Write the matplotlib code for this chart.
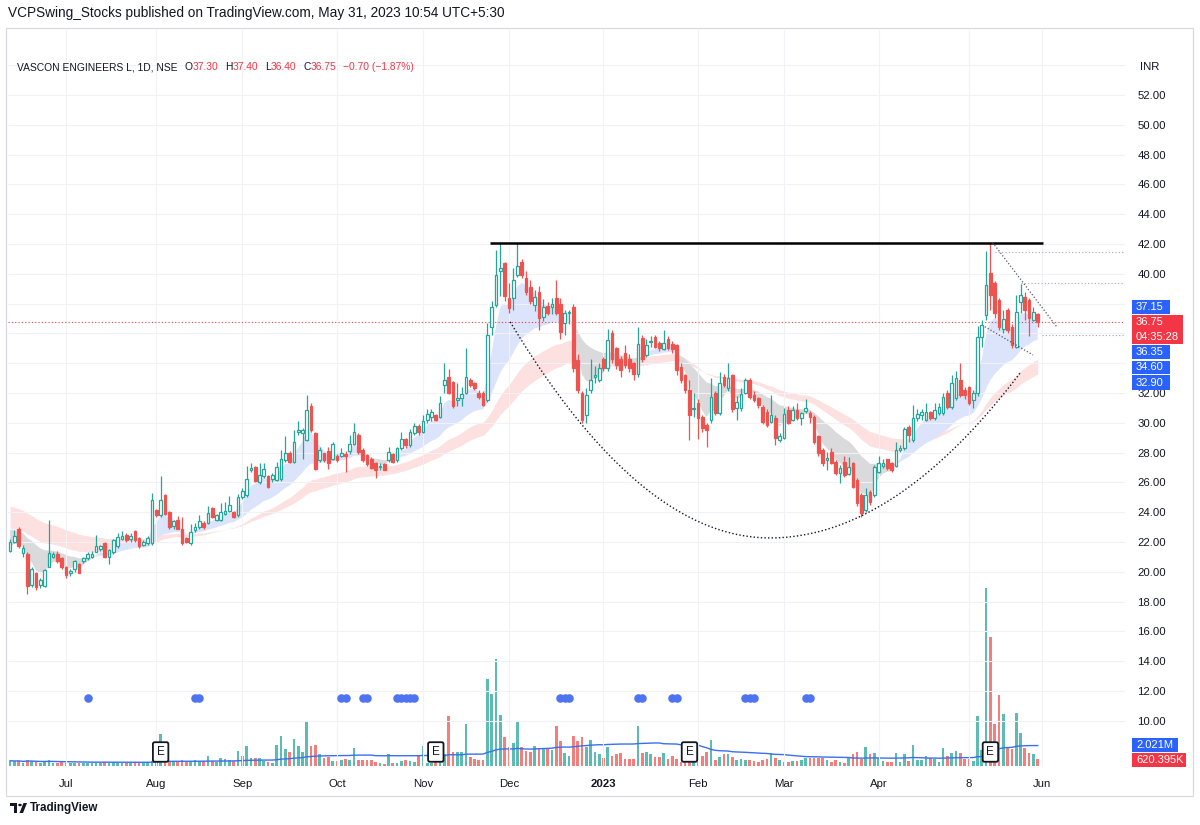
import numpy as np
import pandas as pd
import matplotlib
matplotlib.use("Agg")
import matplotlib.pyplot as plt
import matplotlib.transforms as mtransforms
from matplotlib.patches import Rectangle, Circle, Polygon

plt.rcParams["font.family"] = ["Liberation Sans", "DejaVu Sans"]

# daily bars, mid June 2022 -> 31 May 2023 (INR)
opens = [
    21.4, 22.0, 22.9, 21.25, 21.2, 19.1, 19.95, 19.1, 19.05, 20.35,
    21.0, 21.2, 20.9, 20.35, 19.9, 20.2, 20.55, 20.7, 20.9, 21.0,
    21.35, 21.5, 21.9, 21.0, 21.35, 21.7, 22.2, 22.45, 22.2, 22.75,
    22.25, 21.8, 21.9, 21.9, 24.15, 23.8, 25.15, 24.0, 23.05, 23.5,
    22.9, 22.25, 21.9, 22.8, 23.0, 23.3, 23.25, 24.3, 23.5, 23.5,
    23.9, 24.1, 24.0, 23.8, 25.0, 25.15, 26.85, 27.05, 26.05, 26.4,
    26.4, 26.2, 26.15, 26.2, 27.5, 28.0, 27.4, 29.35, 29.3, 28.85,
    31.1, 29.3, 27.5, 27.95, 28.1, 27.6, 27.8, 27.8, 27.9, 28.1,
    28.6, 29.2, 28.2, 27.85, 27.6, 27.3, 27.05, 27.2, 27.5, 27.9,
    27.5, 28.3, 28.9, 28.5, 29.3, 29.8, 29.4, 30.2, 30.4, 30.5,
    30.4, 32.55, 33.1, 32.75, 31.5, 31.65, 31.98, 32.9, 32.65, 32.0,
    32.0, 31.55, 36.45, 37.9, 40.2, 40.7, 38.35, 38.35, 39.9, 40.8,
    39.7, 39.1, 37.9, 38.8, 37.1, 37.85, 37.8, 38.35, 38.0, 36.7,
    37.35, 37.8, 34.2, 31.97, 30.5, 32.2, 33.1, 32.87, 34.25, 33.65,
    36.0, 35.0, 34.3, 34.65, 34.3, 34.0, 33.3, 35.7, 34.55, 35.4,
    35.75, 35.38, 34.95, 35.6, 35.3, 35.2, 33.77, 33.2, 32.2, 30.9,
    31.35, 30.37, 29.85, 30.2, 31.98, 30.65, 33.1, 32.3, 33.2, 30.97,
    30.97, 31.98, 32.87, 31.87, 31.65, 31.08, 30.75, 30.08, 30.3, 28.85,
    28.96, 30.85, 30.18, 30.85, 30.3, 30.8, 30.63, 30.4, 29.1, 28.17,
    27.5, 28.06, 27.39, 26.6, 27.39, 26.56, 27.28, 26.16, 25.15, 24.15,
    25.37, 25.15, 26.72, 27.1, 27.55, 27.28, 27.1, 28.17, 28.28, 29.74,
    28.84, 30.3, 30.5, 30.2, 30.7, 30.3, 30.64, 30.64, 31.98, 31.08,
    31.64, 32.87, 32.2, 32.43, 31.53, 31.98, 35.78, 37.2, 40.03, 39.36,
    38.25, 36.27, 37.57, 36.45, 35.11, 38.13, 38.47, 38.25, 36.9, 37.3,
]
highs = [
    22.2, 22.8, 23.0, 21.8, 21.3, 20.3, 20.0, 19.6, 20.2, 23.45,
    21.3, 21.4, 21.0, 20.4, 20.2, 20.8, 20.6, 21.0, 21.3, 21.4,
    22.5, 21.8, 22.0, 21.5, 22.2, 22.6, 22.75, 22.6, 22.6, 22.8,
    22.3, 22.1, 22.4, 25.3, 24.2, 26.45, 25.2, 24.1, 23.5, 23.75,
    23.7, 22.3, 23.2, 23.3, 23.8, 23.4, 24.4, 24.35, 23.9, 24.6,
    24.7, 25.1, 24.1, 25.2, 25.6, 27.1, 27.3, 27.1, 27.3, 27.3,
    26.5, 26.6, 27.4, 28.2, 29.1, 28.1, 29.5, 30.1, 29.65, 31.85,
    31.3, 29.4, 28.4, 28.0, 28.4, 28.7, 27.9, 28.3, 28.1, 29.2,
    30.0, 29.3, 28.3, 27.9, 27.7, 27.4, 27.3, 27.3, 28.4, 28.0,
    28.4, 29.4, 29.0, 29.6, 30.0, 29.9, 30.5, 30.9, 30.9, 30.6,
    31.8, 34.0, 33.6, 32.8, 32.65, 32.4, 35.0, 33.0, 32.75, 32.2,
    32.1, 36.7, 38.2, 41.6, 42.05, 40.8, 39.4, 40.4, 42.05, 41.0,
    40.2, 39.6, 38.9, 39.2, 38.3, 38.1, 38.4, 39.6, 38.4, 37.6,
    37.6, 38.0, 34.6, 32.1, 32.3, 34.3, 33.8, 34.0, 34.4, 36.3,
    36.2, 35.1, 34.5, 35.2, 34.6, 34.1, 36.4, 35.9, 35.6, 35.8,
    35.9, 35.5, 36.2, 35.8, 35.5, 35.3, 34.0, 33.3, 32.85, 32.0,
    31.6, 30.5, 30.0, 33.0, 32.1, 33.4, 33.3, 34.0, 33.3, 31.8,
    32.3, 33.0, 33.0, 32.1, 31.7, 31.2, 30.9, 31.87, 30.5, 29.3,
    31.0, 31.1, 31.1, 31.3, 30.7, 31.6, 30.8, 30.5, 29.2, 28.3,
    28.06, 28.3, 27.5, 27.17, 27.77, 27.72, 27.4, 26.3, 25.3, 25.6,
    25.5, 27.17, 27.8, 27.6, 27.6, 27.4, 28.7, 28.5, 29.7, 29.85,
    31.2, 30.9, 30.9, 31.35, 30.8, 31.3, 31.3, 32.0, 32.2, 33.2,
    33.5, 34.0, 32.4, 32.5, 32.2, 36.5, 36.9, 41.53, 42.05, 39.5,
    38.4, 37.6, 37.7, 36.6, 38.6, 39.3, 38.8, 38.4, 37.8, 37.4,
]
lows = [
    21.3, 21.9, 21.6, 21.0, 18.5, 19.0, 18.8, 18.9, 19.0, 20.3,
    20.9, 20.6, 20.2, 19.6, 19.7, 20.0, 19.9, 20.6, 20.8, 20.9,
    21.3, 21.4, 20.9, 20.5, 21.2, 21.6, 22.1, 22.0, 22.0, 22.0,
    21.6, 21.7, 21.8, 21.8, 23.7, 23.7, 23.8, 22.9, 22.9, 22.9,
    21.8, 21.9, 21.8, 22.7, 22.9, 22.9, 23.2, 23.6, 23.4, 23.4,
    23.8, 24.0, 23.6, 23.7, 24.9, 25.0, 26.7, 26.0, 25.9, 26.3,
    25.6, 26.0, 26.1, 26.1, 27.4, 27.3, 27.3, 29.2, 27.6, 28.8,
    29.4, 26.8, 27.4, 27.4, 26.9, 27.5, 27.4, 27.7, 26.7, 27.9,
    28.5, 27.9, 27.4, 27.1, 26.9, 26.3, 26.8, 26.8, 27.4, 27.3,
    27.4, 28.2, 28.3, 28.4, 29.2, 29.2, 29.3, 30.0, 30.1, 30.1,
    30.3, 32.0, 31.9, 31.0, 31.1, 31.1, 31.9, 32.4, 32.2, 31.6,
    31.1, 31.4, 35.9, 37.8, 38.5, 38.2, 37.35, 37.6, 39.8, 39.7,
    38.6, 38.0, 37.5, 36.2, 36.8, 37.2, 37.3, 37.2, 35.6, 35.9,
    36.6, 33.4, 32.0, 29.97, 29.96, 32.0, 32.65, 32.75, 33.5, 33.5,
    34.0, 33.6, 33.1, 33.7, 33.4, 32.9, 33.1, 34.1, 34.4, 35.1,
    35.0, 34.8, 34.9, 34.9, 34.7, 33.2, 32.7, 32.0, 28.85, 30.4,
    28.9, 29.4, 28.4, 30.0, 30.5, 30.5, 32.4, 32.1, 30.7, 30.2,
    30.8, 31.9, 31.6, 31.4, 31.0, 29.95, 29.7, 29.97, 28.5, 28.7,
    28.9, 29.9, 30.1, 30.2, 29.85, 30.63, 29.96, 28.6, 27.8, 27.1,
    26.83, 27.2, 26.5, 25.94, 26.38, 26.5, 25.6, 24.4, 23.7, 24.0,
    24.5, 25.0, 26.6, 26.94, 26.8, 26.7, 27.0, 28.06, 28.2, 28.7,
    28.7, 30.1, 30.2, 30.1, 30.2, 30.2, 30.5, 30.5, 30.9, 30.9,
    31.5, 31.7, 31.6, 31.2, 30.97, 31.8, 35.1, 36.9, 37.6, 37.0,
    36.2, 36.0, 36.0, 35.0, 35.0, 37.4, 36.9, 35.8, 36.8, 36.4,
]
closes = [
    22.0, 22.4, 21.7, 21.6, 19.05, 20.2, 19.0, 19.45, 20.1, 21.25,
    21.2, 20.7, 20.35, 19.8, 20.05, 20.7, 19.95, 20.9, 21.2, 21.2,
    21.7, 21.7, 21.0, 21.45, 22.1, 22.35, 22.4, 22.1, 22.4, 22.15,
    21.75, 22.0, 22.25, 24.8, 23.8, 24.8, 23.9, 23.0, 23.4, 22.9,
    21.9, 21.97, 22.7, 23.0, 23.4, 23.0, 23.95, 23.7, 23.8, 24.0,
    24.1, 24.5, 23.7, 25.0, 25.4, 26.2, 26.95, 26.1, 26.5, 26.9,
    25.7, 26.5, 27.0, 27.6, 28.0, 27.4, 28.7, 29.5, 29.5, 30.85,
    29.5, 26.9, 28.2, 27.5, 27.3, 28.6, 27.5, 27.95, 27.8, 28.6,
    29.4, 28.05, 27.5, 27.2, 26.95, 26.85, 27.1, 26.85, 28.05, 27.4,
    28.3, 28.9, 28.5, 29.4, 29.8, 29.4, 30.1, 30.6, 30.7, 30.2,
    31.3, 32.9, 32.0, 31.1, 31.65, 31.9, 33.1, 32.55, 32.3, 31.75,
    31.2, 35.9, 37.8, 39.9, 40.4, 38.5, 37.7, 39.6, 40.5, 39.9,
    38.8, 38.2, 38.45, 37.0, 37.8, 37.35, 38.0, 37.35, 36.1, 37.35,
    37.45, 33.65, 32.2, 30.2, 31.85, 32.9, 33.2, 33.65, 33.65, 35.55,
    34.3, 33.9, 33.55, 33.9, 33.65, 33.3, 35.3, 34.3, 35.2, 35.5,
    35.1, 35.0, 35.38, 35.0, 34.93, 33.55, 32.9, 32.2, 30.5, 31.0,
    30.3, 29.63, 29.52, 31.76, 30.65, 32.7, 32.54, 32.99, 30.9, 31.4,
    31.9, 32.87, 31.76, 31.53, 31.2, 30.08, 29.85, 30.53, 28.96, 29.12,
    30.6, 29.96, 30.85, 30.3, 30.63, 31.0, 30.4, 28.73, 27.95, 27.28,
    27.62, 27.32, 26.6, 26.94, 26.5, 27.05, 25.7, 24.6, 23.92, 25.15,
    24.7, 27.05, 27.32, 27.28, 26.94, 26.83, 28.17, 28.28, 29.56, 29.18,
    30.3, 30.6, 30.7, 30.7, 30.3, 30.86, 31.08, 31.75, 31.08, 32.65,
    32.98, 31.87, 31.87, 31.3, 31.98, 35.78, 36.56, 39.25, 38.58, 37.35,
    36.45, 36.94, 36.23, 35.22, 37.46, 38.58, 37.57, 37.0, 37.45, 36.75,
]
# volume, millions
volumes = [
    0.5, 0.45, 0.5, 0.3, 0.6, 0.45, 0.35, 0.3, 0.4, 0.55,
    0.3, 0.3, 0.35, 0.3, 0.25, 0.3, 0.3, 0.25, 0.3, 0.25,
    0.4, 0.3, 0.35, 0.3, 0.35, 0.3, 0.25, 0.3, 0.3, 0.35,
    0.3, 0.35, 0.4, 0.5, 0.6, 3.1, 0.6, 0.5, 0.4, 0.5,
    0.6, 0.4, 0.5, 0.6, 0.5, 0.5, 1.0, 0.5, 0.4, 0.8,
    0.7, 0.6, 0.5, 1.4, 1.0, 1.9, 0.8, 0.8, 0.8, 0.5,
    0.4, 0.3, 2.0, 2.9, 1.6, 1.3, 2.6, 1.9, 1.3, 4.3,
    1.9, 2.0, 1.1, 0.8, 0.9, 0.5, 0.5, 0.6, 0.7, 0.6,
    1.7, 0.6, 0.6, 0.55, 0.55, 0.4, 0.25, 0.15, 1.1, 0.25,
    0.3, 0.45, 0.55, 0.45, 0.4, 1.0, 1.9, 0.3, 0.3, 0.35,
    0.4, 1.1, 4.8, 1.3, 1.3, 1.3, 4.0, 0.9, 0.7, 0.6,
    0.6, 8.4, 6.9, 10.3, 4.9, 2.8, 1.8, 2.2, 4.2, 1.8,
    1.4, 1.3, 1.9, 1.7, 1.7, 1.6, 1.5, 3.8, 2.4, 1.2,
    1.0, 2.9, 2.4, 2.8, 1.8, 2.5, 1.3, 1.1, 0.8, 1.8,
    1.0, 1.1, 1.2, 0.7, 0.7, 0.7, 3.8, 1.2, 1.3, 1.1,
    0.9, 0.9, 1.2, 0.7, 1.0, 0.7, 0.4, 0.35, 0.35, 0.35,
    0.4, 1.0, 1.3, 2.5, 0.6, 0.9, 1.1, 1.1, 0.9, 0.6,
    0.65, 0.6, 0.6, 0.5, 0.35, 0.6, 0.7, 1.2, 0.8, 0.6,
    0.4, 0.4, 0.5, 0.5, 0.6, 0.75, 0.75, 0.75, 0.75, 0.75,
    0.6, 0.4, 0.6, 0.4, 0.3, 0.9, 1.1, 1.3, 0.7, 1.8,
    1.1, 1.2, 0.8, 0.5, 0.4, 0.4, 1.2, 0.4, 1.1, 0.5,
    2.0, 0.6, 0.6, 1.0, 0.75, 0.7, 0.4, 1.7, 1.0, 1.2,
    1.4, 1.2, 0.7, 0.7, 0.5, 4.8, 1.5, 17.1, 12.4, 4.0,
    6.8, 5.0, 1.7, 1.6, 5.1, 3.2, 1.7, 1.2, 1.1, 0.62,
]

month_idx = [13, 34, 54, 76, 96, 116, 138, 160, 180, 202, 223, 240]
month_labels = ["Jul", "Aug", "Sep", "Oct", "Nov", "Dec", "2023", "Feb", "Mar", "Apr", "8", "Jun"]
earnings_idx = [35, 99, 158, 228]
signal_idx = [18, 43, 44, 77, 78, 82, 83, 90, 91, 92, 93, 94, 128, 129, 130,
              146, 147, 154, 155, 171, 172, 173, 185, 186]
signal_level = 11.5

# ribbon starting levels read at the left edge: ema5, ema21, ema34, ema50
ribbon_seeds = [21.5, 22.9, 22.95, 24.5]

resistance = 42.05
cup_idx = [116.3, 176.7, 234.9]
cup_price = [36.77, 22.27, 33.34]
flag_upper = ([228.5, 243.4], [42.1, 36.45])
flag_lower = ([226.7, 237.9], [36.45, 34.55])
range_levels = [41.48, 39.36, 35.9]
range_start = [229, 235, 240]

GREEN = "#26a69a"
RED = "#ef5350"
TVRED = "#f23645"
TVBLUE = "#2962ff"
DARK = "#131722"
W, H = 1200, 825


def fx(px):
    return px / W


def fy(py):
    return 1 - py / H


def ema(values, span, seed):
    alpha = 2 / (span + 1)
    out, prev = [], seed
    for v in values:
        prev = prev + alpha * (v - prev)
        out.append(prev)
    return np.array(out)


o, h, l, c = (np.array(a) for a in (opens, highs, lows, closes))
x = np.arange(len(c))
up = c >= o
col = np.where(up, GREEN, RED)

fig = plt.figure(figsize=(12, 8.25), dpi=100)
fig.patch.set_facecolor("white")
ax = fig.add_axes([fx(8), fy(768), fx(1125) - fx(8), fy(30) - fy(768)])
axv = ax.twinx()
ax.set_zorder(axv.get_zorder() + 1)
ax.patch.set_visible(False)

ax.set_xlim(-0.5, 259.3)
ax.set_ylim(6.83, 56.36)
axv.set_ylim(-0.2, 70.8)

# volume + its average
vcol = np.where(up, GREEN, RED)
axv.bar(x, volumes, width=0.62, color=vcol, alpha=0.75, linewidth=0)
vma = pd.Series(volumes).rolling(50, min_periods=1).mean()
axv.plot(x, vma, color="#3a6ff0", lw=1.0)
axv.set_yticks([])
for s in axv.spines.values():
    s.set_visible(False)

# moving average ribbons
e5 = ema(c, 5, ribbon_seeds[0])
e21 = ema(c, 21, ribbon_seeds[1])
e34 = ema(c, 34, ribbon_seeds[2])
e50 = ema(c, 50, ribbon_seeds[3])
ax.fill_between(x, e34, e50, color="#fde0e0", lw=0, zorder=1)
ax.fill_between(x, e5, e21, where=e5 >= e21, interpolate=True, color="#dce4fb", lw=0, zorder=1.1)
ax.fill_between(x, e5, e21, where=e5 < e21, interpolate=True, color="#dadadc", lw=0, zorder=1.1)

# candles (hollow up, filled down)
ax.vlines(x, l, np.minimum(o, c), color=col, lw=0.9, zorder=3)
ax.vlines(x, np.maximum(o, c), h, color=col, lw=0.9, zorder=3)
body = np.maximum(np.abs(c - o), 0.04)
ax.bar(x, body, bottom=np.minimum(o, c), width=0.62,
       color=np.where(up, "white", RED), edgecolor=col, linewidth=0.9, zorder=4)

# grid and scales
ax.set_xticks(month_idx)
ax.set_xticklabels(month_labels)
for t, lab in zip(ax.get_xticklabels(), month_labels):
    if lab == "2023":
        t.set_fontweight("bold")
yt = np.arange(10, 54, 2)
ax.set_yticks(yt)
# labels hidden behind the price tags in the reference are left blank
ax.set_yticklabels(["" if v in (34, 36, 38) else f"{v:.2f}" for v in yt])
ax.yaxis.tick_right()
ax.grid(color="#f0f2f6", lw=0.8, zorder=0)
ax.axhline(54, color="#f0f2f6", lw=0.8, zorder=0)
ax.tick_params(axis="y", length=0, pad=9, labelsize=8.2, labelcolor=DARK)
ax.tick_params(axis="x", length=0, pad=8, labelsize=8.2, labelcolor=DARK)
for s in ax.spines.values():
    s.set_visible(False)

# drawings
ax.axhline(c[-1], color=TVRED, lw=0.8, ls=(0, (1, 2)), zorder=2)
ax.hlines(resistance, 111.5, 240.3, colors="black", lw=1.8, zorder=6)
t1 = np.linspace(cup_idx[0], cup_idx[1], 120)
t2 = np.linspace(cup_idx[1], cup_idx[2], 120)
left = cup_price[1] + (cup_price[0] - cup_price[1]) * ((t1 - cup_idx[1]) / (cup_idx[0] - cup_idx[1])) ** 2
right = cup_price[1] + (cup_price[2] - cup_price[1]) * ((t2 - cup_idx[1]) / (cup_idx[2] - cup_idx[1])) ** 2
ax.plot(np.r_[t1, t2], np.r_[left, right], color=DARK, lw=1.0, ls=(0, (1, 1.6)), zorder=6)
ax.plot(*flag_upper, color="#555a66", lw=0.9, ls=(0, (1, 1.6)), zorder=6)
ax.plot(*flag_lower, color="#555a66", lw=0.9, ls=(0, (1, 1.6)), zorder=6)
for lev, st in zip(range_levels, range_start):
    ax.hlines(lev, st, 259.3, colors="#a3a6af", lw=0.8, linestyles=[(0, (1, 2))], zorder=2)

# signal dots and earnings flags
ax.scatter(signal_idx, [signal_level] * len(signal_idx), s=38, color="#4e74f2", zorder=5, linewidths=0)
trans = mtransforms.blended_transform_factory(ax.transData, ax.transAxes)
for e in earnings_idx:
    ax.text(e, 0.0217, "E", transform=trans, ha="center", va="center", fontsize=8.5, color=DARK, zorder=7,
            bbox=dict(boxstyle="round,pad=0.32,rounding_size=0.15", fc="white", ec=DARK, lw=1.3))

# header / legend
fig.text(fx(8), fy(13), "VCPSwing_Stocks published on TradingView.com, May 31, 2023 10:54 UTC+5:30",
         fontsize=9.8, color=DARK, va="center")
prev = fig.text(fx(17), fy(67), "VASCON ENGINEERS L, 1D, NSE", fontsize=7.4, color=DARK, va="center")
legend_parts = [("O", DARK, 5), ("37.30", TVRED, 0), ("H", DARK, 5), ("37.40", TVRED, 0),
                ("L", DARK, 5), ("36.40", TVRED, 0), ("C", DARK, 5), ("36.75", TVRED, 0),
                ("\u22120.70 (\u22121.87%)", TVRED, 5)]
for txt, colr, gap in legend_parts:
    prev = ax.annotate(txt, xy=(1, 0.5), xycoords=prev, xytext=(gap, 0), textcoords="offset points",
                       fontsize=7.4, color=colr, va="center", ha="left", annotation_clip=False)
fig.text(fx(1140), fy(67), "INR", fontsize=8.2, color=DARK, va="center")

# price-scale tags
tags = [(300, 314, 1170, ["37.15"], TVBLUE), (315, 344, 1183, ["36.75", "04:35:28"], TVRED),
        (345, 359, 1170, ["36.35"], TVBLUE), (361, 374, 1170, ["34.60"], TVBLUE),
        (375, 390, 1170, ["32.90"], TVBLUE), (738, 752, 1178, ["2.021M"], TVBLUE),
        (753, 767, 1186, ["620.395K"], TVRED)]
for top, bot, rgt, lines, colr in tags:
    fig.add_artist(Rectangle((fx(1132), fy(bot)), fx(rgt) - fx(1132), fy(top) - fy(bot),
                             transform=fig.transFigure, fc=colr, ec="none", zorder=8))
    step = (bot - top) / len(lines)
    for k, s in enumerate(lines):
        fig.text(fx(1136), fy(top + step * (k + 0.5)), s, fontsize=8.0, color="white",
                 va="center", ha="left", zorder=9)

# frame and footer
fig.add_artist(Rectangle((fx(6), fy(796)), fx(1193) - fx(6), fy(28) - fy(796), transform=fig.transFigure,
                         fc="none", ec="#d6d8de", lw=0.8))
fig.add_artist(Rectangle((fx(10), fy(806)), fx(7), fy(803) - fy(806), transform=fig.transFigure, fc=DARK, ec="none"))
fig.add_artist(Rectangle((fx(13.5), fy(813)), fx(3), fy(803) - fy(813), transform=fig.transFigure, fc=DARK, ec="none"))
fig.add_artist(Circle((fx(20), fy(805)), fx(1.8), transform=fig.transFigure, fc=DARK, ec="none"))
fig.add_artist(Polygon([(fx(19.5), fy(813)), (fx(23.5), fy(803)), (fx(27), fy(803)), (fx(23), fy(813))],
                       closed=True, transform=fig.transFigure, fc=DARK, ec="none"))
fig.text(fx(30), fy(808), "TradingView", fontsize=8.4, fontweight="bold", color=DARK, va="center")

fig.savefig("out.png", dpi=100)
